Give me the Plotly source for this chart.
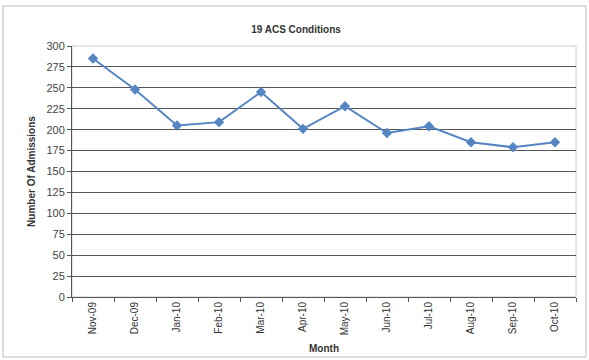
import plotly.graph_objects as go

months = ["Nov-09", "Dec-09", "Jan-10", "Feb-10", "Mar-10", "Apr-10",
          "May-10", "Jun-10", "Jul-10", "Aug-10", "Sep-10", "Oct-10"]
admissions = [285, 248, 205, 209, 245, 201, 228, 196, 204, 185, 179, 185]
y_ticks = list(range(0, 301, 25))

fig = go.Figure()
fig.add_trace(go.Scatter(
    x=months, y=admissions, mode="lines+markers",
    line=dict(color="#5585C2", width=2),
    marker=dict(symbol="diamond", size=8, color="#5585C2"),
    showlegend=False,
))

fig.update_layout(
    width=589, height=360,
    margin=dict(l=72, r=13, t=46, b=63, autoexpand=False),
    paper_bgcolor="white", plot_bgcolor="white",
    font=dict(family="Liberation Sans, Arial, sans-serif", color="#333333"),
    title=dict(text="<b>19 ACS Conditions</b>", x=296 / 589, xanchor="center",
               xref="container", yref="container",
               y=1 - 29 / 360, yanchor="middle",
               font=dict(size=10, color="#333333")),
)
fig.update_xaxes(
    type="category", range=[-0.5, 11.5], tickson="boundaries",
    ticks="outside", ticklen=4, tickcolor="#555555",
    tickangle=-90, tickfont=dict(size=10, color="#333333"),
    showline=True, linecolor="#555555", linewidth=1, mirror=False,
    showgrid=False, automargin=False,
    title=dict(text="<b>Month</b>", font=dict(size=10, color="#333333"), standoff=10),
)
fig.update_yaxes(
    range=[0, 300], tickvals=y_ticks,
    ticks="outside", ticklen=4, tickcolor="#555555",
    tickfont=dict(size=11, color="#444444"),
    showline=True, linecolor="#555555", linewidth=1,
    showgrid=True, gridcolor="#555555", gridwidth=1,
    zeroline=False, automargin=False,
    title=dict(text="<b>Number Of Admissions</b>", font=dict(size=10, color="#333333"), standoff=8),
)
# plot area border (light)
fig.add_shape(type="rect", xref="paper", yref="paper", x0=0, y0=0, x1=1, y1=1,
              line=dict(color="#CCCCCC", width=1), layer="below")
# chart outer border
fig.add_shape(type="rect", xref="paper", yref="paper",
              x0=-69 / 504, x1=1 + 10 / 504, y0=-60 / 251, y1=1 + 40 / 251,
              line=dict(color="#BBBBBB", width=1))

fig.write_html("out.html", config={"displayModeBar": False},
               post_script="document.body.style.margin='0';document.body.style.overflow='hidden';")
